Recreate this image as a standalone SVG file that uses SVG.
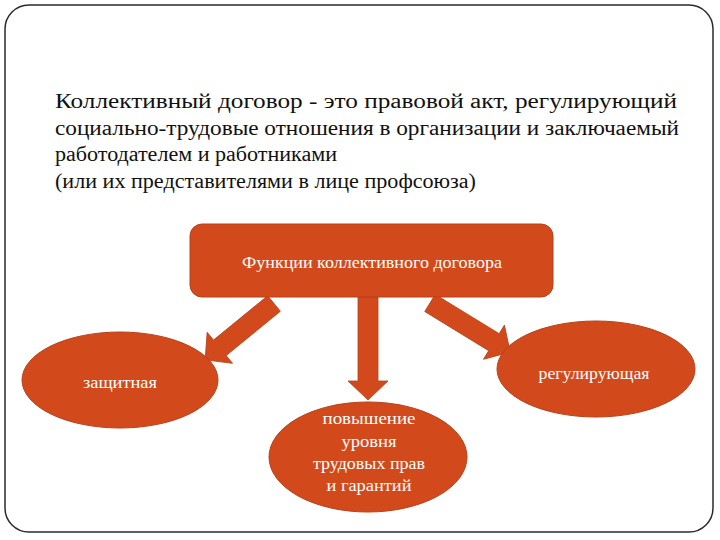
<svg xmlns="http://www.w3.org/2000/svg" width="720" height="540" viewBox="0 0 720 540">
<defs>
<style>
.frame{fill:#fff;stroke:#2b2b2b;stroke-width:1.5}
.body{font-size:20px;fill:#111}
.node{fill:#D24A1B;stroke:#B8411A;stroke-width:1}
.lbl{font-size:16px;fill:#fff;text-anchor:middle}
.arrow{fill:#D24A1B;stroke:#B8411A;stroke-width:0.8}
</style>
</defs>
<rect width="720" height="540" fill="#fff"/>
<rect class="frame" x="5" y="5" width="708" height="527" rx="24" ry="24"/>
<g id="definition" font-family="'Liberation Serif', 'Times New Roman', Times, serif">
<text class="body" x="55" y="108" textLength="622" lengthAdjust="spacingAndGlyphs">Коллективный договор - это правовой акт, регулирующий</text>
<text class="body" x="55" y="135" textLength="624" lengthAdjust="spacingAndGlyphs">социально-трудовые отношения в организации и заключаемый</text>
<text class="body" x="55" y="161" textLength="282" lengthAdjust="spacingAndGlyphs">работодателем и работниками</text>
<text class="body" x="55" y="188" textLength="421" lengthAdjust="spacingAndGlyphs">(или их представителями в лице профсоюза)</text>
</g>
<g id="connectors">
<polygon class="arrow" transform="translate(274,303.5) rotate(140.7)" points="0,-10 70,-10 70,-20 89,0 70,20 70,10 0,10"/>
<polygon class="arrow" transform="translate(368,297) rotate(90)" points="0,-10 84,-10 84,-20 103,0 84,20 84,10 0,10"/>
<polygon class="arrow" transform="translate(430,303) rotate(31.5)" points="0,-10 75,-10 75,-20 94,0 75,20 75,10 0,10"/>
</g>
<g id="functions" font-family="'Liberation Serif', 'Times New Roman', Times, serif">
<rect class="node" x="190" y="224" width="363" height="73" rx="12" ry="12"/>
<text class="lbl" x="372" y="268" textLength="260" lengthAdjust="spacingAndGlyphs">Функции коллективного договора</text>
</g>
<g id="protective" font-family="'Liberation Serif', 'Times New Roman', Times, serif">
<ellipse class="node" cx="120" cy="380" rx="98" ry="48"/>
<text class="lbl" x="120" y="388" textLength="74" lengthAdjust="spacingAndGlyphs">защитная</text>
</g>
<g id="raising" font-family="'Liberation Serif', 'Times New Roman', Times, serif">
<ellipse class="node" cx="368" cy="457" rx="99" ry="55"/>
<text class="lbl" x="369" y="424" textLength="93" lengthAdjust="spacingAndGlyphs">повышение</text>
<text class="lbl" x="369" y="447" textLength="55" lengthAdjust="spacingAndGlyphs">уровня</text>
<text class="lbl" x="369" y="469" textLength="112" lengthAdjust="spacingAndGlyphs">трудовых прав</text>
<text class="lbl" x="369" y="491" textLength="85" lengthAdjust="spacingAndGlyphs">и гарантий</text>
</g>
<g id="regulating" font-family="'Liberation Serif', 'Times New Roman', Times, serif">
<ellipse class="node" cx="596" cy="369" rx="99" ry="48"/>
<text class="lbl" x="594" y="379" textLength="111" lengthAdjust="spacingAndGlyphs">регулирующая</text>
</g>
</svg>
